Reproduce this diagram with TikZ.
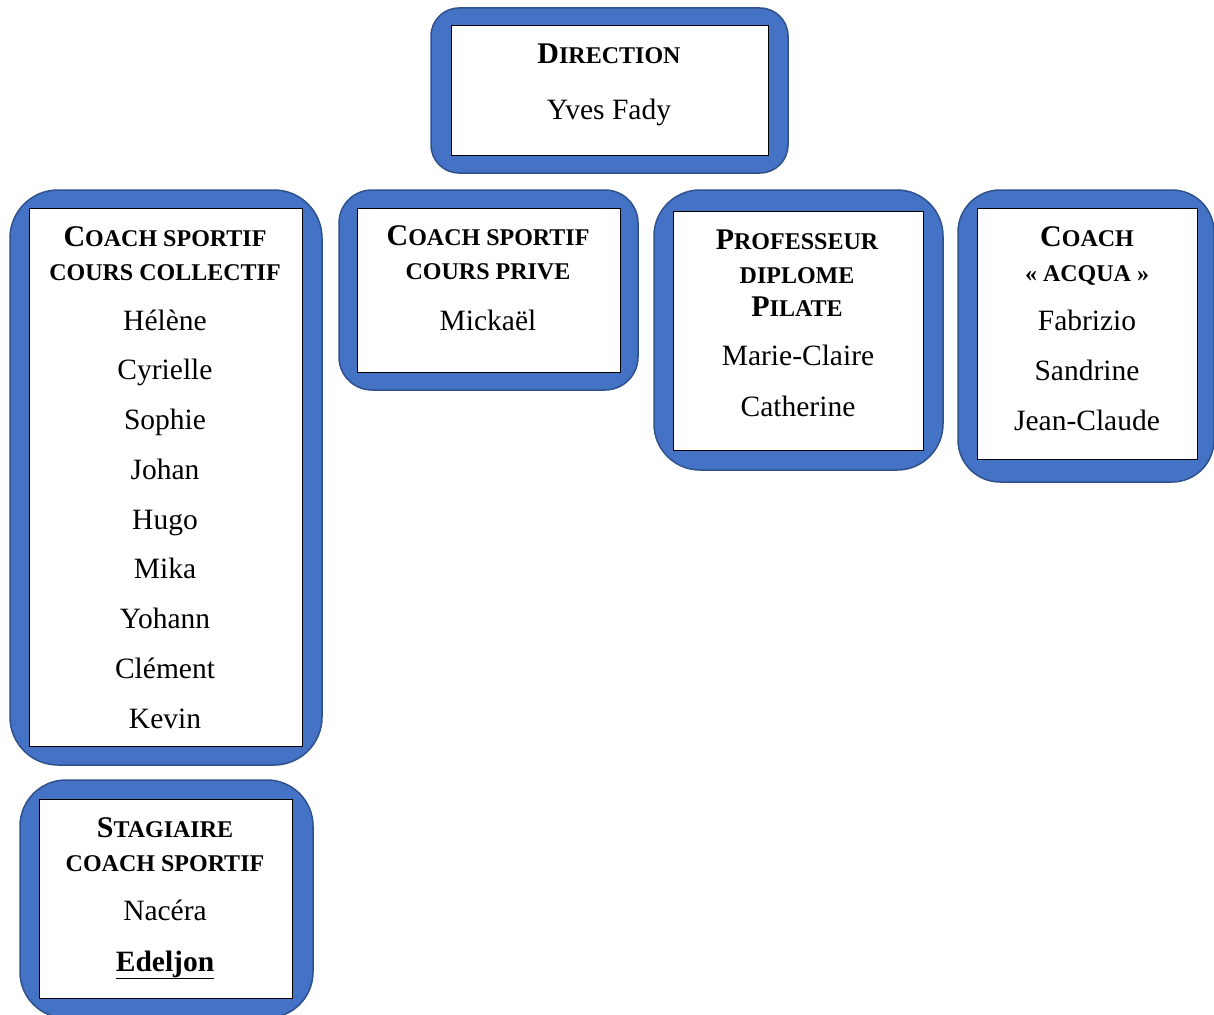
\documentclass[tikz,border=0pt]{standalone}
\usepackage{fontspec}
\setmainfont{Liberation Serif}
\usepackage{tikz}

\definecolor{boxblue}{HTML}{4472C4}
\definecolor{frameblue}{HTML}{2F528F}

% first letter of a small-caps title at full size
\newcommand{\initiale}[1]{{\fontsize{30}{36}\selectfont #1}}

\begin{document}
\begin{tikzpicture}[x=1pt,y=-1pt,
  frame/.style={rectangle,draw=frameblue,fill=boxblue,line width=1.5pt,
                rounded corners=#1,inner sep=0pt},
  panel/.style={rectangle,draw=black,fill=white,line width=0.8pt,inner sep=0pt},
  ttl/.style ={anchor=base,inner sep=0pt,font=\bfseries\fontsize{24}{28}\selectfont},
  nom/.style ={anchor=base,inner sep=0pt,font=\fontsize{29.5}{36}\selectfont}
]
\useasboundingbox (0,0) rectangle (1214,1014);

%% Direction
\node[frame=28,minimum width=357,minimum height=165] (dirF) at (609.5,90.5) {};
\node[panel,minimum width=317,minimum height=130] (dirP) at (609.5,90) {};
\node[ttl] (dirT) at (609,64) {\initiale{D}IRECTION};
\node[nom] (dirN) at (609,120) {Yves Fady};

%% Coach sportif cours collectif
\node[frame=48,minimum width=312,minimum height=575] (colF) at (166,477.5) {};
\node[panel,minimum width=273,minimum height=538] (colP) at (165.5,477) {};
\node[ttl] (colT1) at (165,246) {\initiale{C}OACH SPORTIF};
\node[ttl] (colT2) at (165,280) {COURS COLLECTIF};
\foreach \nm [count=\i] in {Hélène,Cyrielle,Sophie,Johan,Hugo,Mika,Yohann,Clément,Kevin}
  \node[nom] (col\i) at (165,{330+(\i-1)*49.75}) {\nm};

%% Coach sportif cours prive
\node[frame=33,minimum width=299,minimum height=200] (priF) at (488.5,290) {};
\node[panel,minimum width=263,minimum height=164] (priP) at (488.5,290) {};
\node[ttl] (priT1) at (488,245) {\initiale{C}OACH SPORTIF};
\node[ttl] (priT2) at (488,279) {COURS PRIVE};
\node[nom] (pri1) at (488,330) {Mickaël};

%% Professeur diplome Pilate
\node[frame=46,minimum width=289,minimum height=280] (proF) at (798.5,330) {};
\node[panel,minimum width=250,minimum height=239] (proP) at (798,330.5) {};
\node[ttl] (proT1) at (797,249) {\initiale{P}ROFESSEUR};
\node[ttl] (proT2) at (797,283) {DIPLOME};
\node[ttl] (proT3) at (797,316) {\initiale{P}ILATE};
\node[nom] (pro1) at (798,365) {Marie-Claire};
\node[nom] (pro2) at (798,416) {Catherine};

%% Coach acqua
\node[frame=42,minimum width=256,minimum height=292] (acqF) at (1086,336) {};
\node[panel,minimum width=220,minimum height=251] (acqP) at (1087,333.5) {};
\node[ttl] (acqT1) at (1087,246) {\initiale{C}OACH};
\node[ttl] (acqT2) at (1087,281) {« ACQUA »};
\foreach \nm [count=\i] in {Fabrizio,Sandrine,Jean-Claude}
  \node[nom] (acq\i) at (1087,{330+(\i-1)*50}) {\nm};

%% Stagiaire
\node[frame=46,minimum width=293,minimum height=238] (staF) at (166.5,899) {};
\node[panel,minimum width=253,minimum height=199] (staP) at (165.5,898.5) {};
\node[ttl] (staT1) at (165,837) {\initiale{S}TAGIAIRE};
\node[ttl] (staT2) at (165,871) {COACH SPORTIF};
\node[nom] (sta1) at (165,920) {Nacéra};
\node[nom] (sta2) at (165,971) {\underline{\textbf{Edeljon}}};
\end{tikzpicture}
\end{document}
